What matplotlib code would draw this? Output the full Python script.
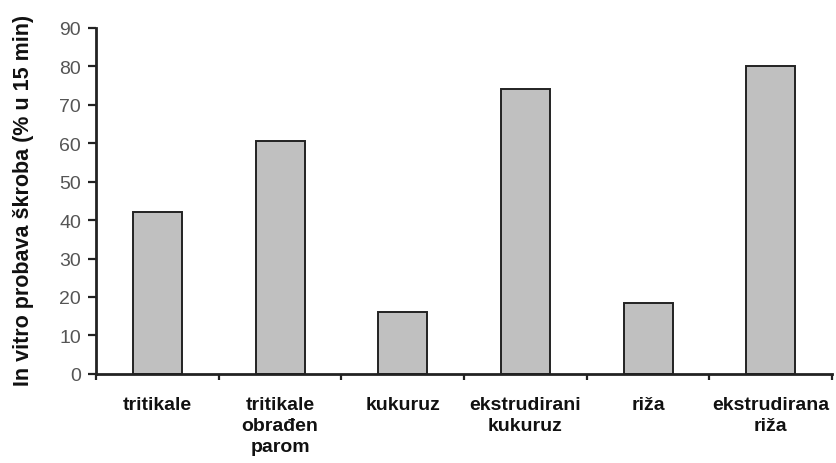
import matplotlib
matplotlib.use("Agg")
import matplotlib.pyplot as plt
import numpy as np

categories = ["tritikale", "tritikale\nobrađen\nparom", "kukuruz",
              "ekstrudirani\nkukuruz", "riža", "ekstrudirana\nriža"]
values = [42, 60.5, 16, 74, 18.5, 80]
y_ticks = [0, 10, 20, 30, 40, 50, 60, 70, 80, 90]
y_label = "In vitro probava škroba (% u 15 min)"

plt.rcParams["font.family"] = ["Liberation Sans", "DejaVu Sans"]

fig = plt.figure(figsize=(8.37, 4.64), dpi=100)
ax = fig.add_axes([0.115, 0.192, 0.879, 0.746])

x = np.arange(len(categories))
ax.bar(x, values, width=0.4, color="#c0c0c0", edgecolor="#222222", linewidth=1.4, zorder=2)

ax.set_xlim(-0.5, len(categories) - 0.5)
ax.set_ylim(0, 90)
ax.set_yticks(y_ticks)
ax.tick_params(axis="y", labelsize=14, labelcolor="#555555", direction="out",
               length=6, width=1.6, color="#222222", pad=5)

# category boundaries carry the tick marks; labels sit centred under the bars
ax.set_xticks(np.arange(-0.5, len(categories), 1.0))
ax.set_xticklabels([])
ax.tick_params(axis="x", direction="out", length=4, width=1.6, color="#222222")
ax.set_xticks(x, minor=True)
ax.set_xticklabels(categories, minor=True, fontsize=14, fontweight="bold",
                   color="#111111", linespacing=1.3, va="top")
ax.tick_params(axis="x", which="minor", length=0, pad=16)

for side in ("top", "right"):
    ax.spines[side].set_visible(False)
ax.spines["left"].set_linewidth(2)
ax.spines["bottom"].set_linewidth(2)
ax.spines["left"].set_color("#222222")
ax.spines["bottom"].set_color("#222222")

ax.set_ylabel(y_label, fontsize=15.5, fontweight="bold", color="#111111")
ax.yaxis.set_label_coords(-0.084, 0.505)

fig.savefig("out.png", dpi=100)
